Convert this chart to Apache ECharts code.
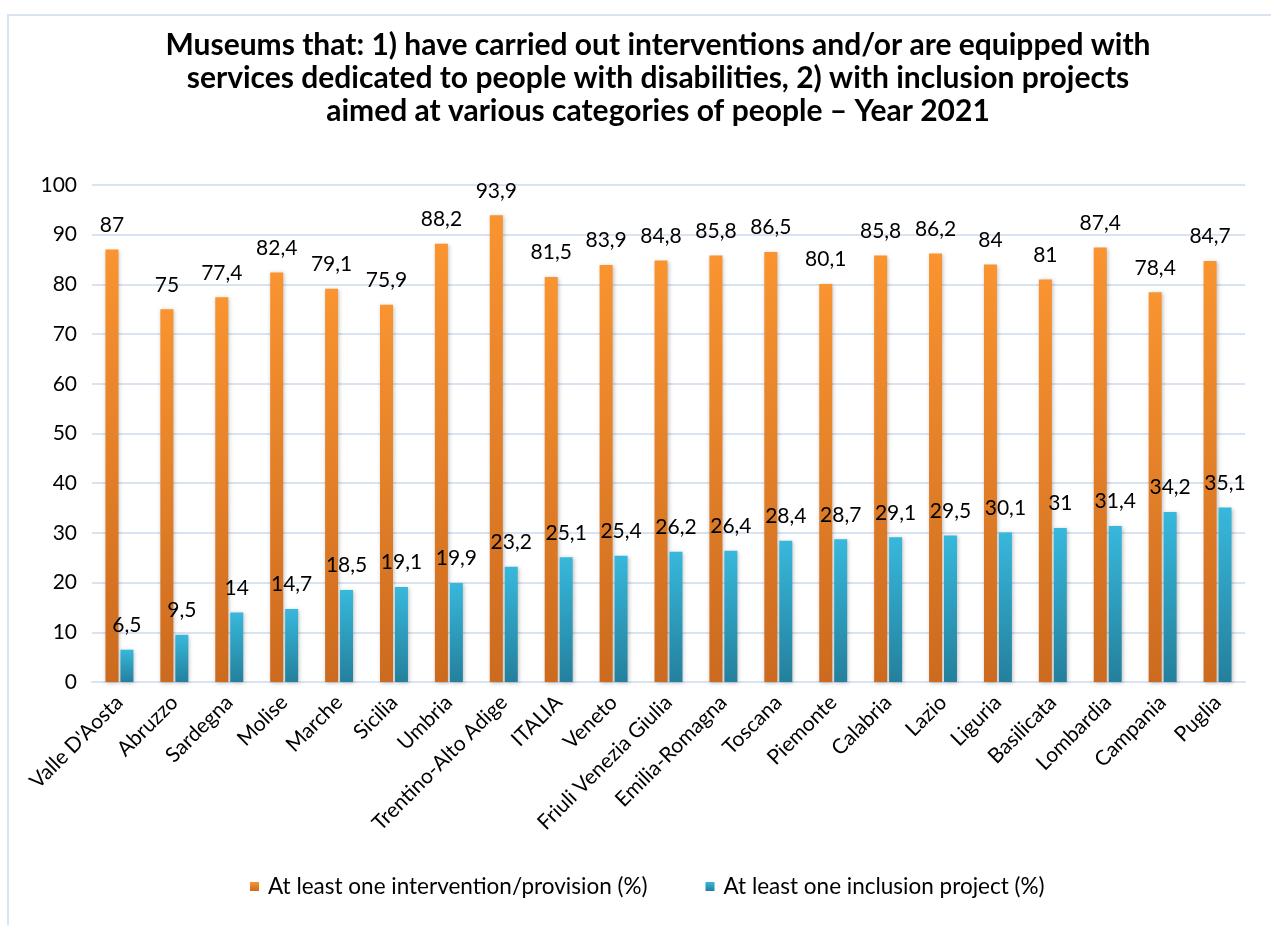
<!DOCTYPE html>
<html>
<head>
<meta charset="utf-8">
<script src="https://cdn.jsdelivr.net/npm/echarts@6/dist/echarts.min.js"></script>
<style>
  html, body { margin: 0; padding: 0; background: #fff; }
  #chart { width: 1271px; height: 925px; }
</style>
</head>
<body>
<div id="chart"></div>
<script>
// Regions (plus the national figure), ordered by share of museums with inclusion projects
const regions = [
  "Valle D'Aosta", "Abruzzo", "Sardegna", "Molise", "Marche", "Sicilia", "Umbria",
  "Trentino-Alto Adige", "ITALIA", "Veneto", "Friuli Venezia Giulia", "Emilia-Romagna",
  "Toscana", "Piemonte", "Calabria", "Lazio", "Liguria", "Basilicata", "Lombardia",
  "Campania", "Puglia"
];
const interventionPct = [
  87, 75, 77.4, 82.4, 79.1, 75.9, 88.2, 93.9, 81.5, 83.9, 84.8, 85.8,
  86.5, 80.1, 85.8, 86.2, 84, 81, 87.4, 78.4, 84.7
];
const inclusionPct = [
  6.5, 9.5, 14, 14.7, 18.5, 19.1, 19.9, 23.2, 25.1, 25.4, 26.2, 26.4,
  28.4, 28.7, 29.1, 29.5, 30.1, 31, 31.4, 34.2, 35.1
];
const seriesNames = [
  "At least one intervention/provision (%)",
  "At least one inclusion project (%)"
];
const yTicks = [0, 10, 20, 30, 40, 50, 60, 70, 80, 90, 100];

const FONT = 'Lato, "Open Sans", sans-serif';
const gridColor = '#D9E3F1';

function vGrad(top, bottom) {
  return new echarts.graphic.LinearGradient(0, 0, 0, 1, [
    { offset: 0, color: top },
    { offset: 1, color: bottom }
  ]);
}
const fmt = p => String(p.value).replace('.', ',');

const chart = echarts.init(document.getElementById('chart'), null, { renderer: 'canvas' });
chart.setOption({
  backgroundColor: '#fff',
  animation: false,
  textStyle: { fontFamily: FONT },
  graphic: [{
    type: 'rect',
    shape: { x: 8, y: 15, width: 1400, height: 1000 },
    style: { fill: 'none', stroke: gridColor, lineWidth: 2 },
    silent: true
  }],
  title: {
    text: 'Museums that: 1) have carried out interventions and/or are equipped with\nservices dedicated to people with disabilities, 2) with inclusion projects\naimed at various categories of people \u2013 Year 2021',
    left: 653,
    textAlign: 'center',
    top: 24,
    textStyle: {
      fontFamily: FONT,
      fontWeight: 'bold',
      fontSize: 30,
      lineHeight: 33,
      color: '#000'
    }
  },
  legend: {
    bottom: 22,
    left: 245,
    itemWidth: 9,
    itemHeight: 9,
    itemGap: 58,
    icon: 'rect',
    textStyle: { fontFamily: FONT, fontSize: 22.5, color: '#000', padding: [0, 0, 0, 4] },
    data: seriesNames
  },
  grid: { left: 92, right: 26, top: 185, bottom: 243, containLabel: false },
  xAxis: {
    type: 'category',
    data: regions,
    axisLine: { show: true, lineStyle: { color: gridColor, width: 2 } },
    axisTick: { show: false },
    axisLabel: {
      rotate: 45,
      interval: 0,
      margin: 17,
      fontFamily: FONT,
      fontSize: 21,
      color: '#000'
    }
  },
  yAxis: {
    type: 'value',
    min: yTicks[0],
    max: yTicks[yTicks.length - 1],
    interval: 10,
    axisLine: { show: false },
    axisTick: { show: false },
    splitLine: { lineStyle: { color: gridColor, width: 2 } },
    axisLabel: { margin: 15, fontFamily: FONT, fontSize: 21, color: '#000' }
  },
  series: [
    {
      name: seriesNames[0],
      type: 'bar',
      data: interventionPct,
      barWidth: 13,
      barGap: '15%',
      itemStyle: {
        color: vGrad('#F99430', '#CC6A1F'),
        shadowBlur: 4,
        shadowColor: 'rgba(0,0,0,0.25)',
        shadowOffsetX: 1,
        shadowOffsetY: 1
      },
      label: {
        show: true,
        position: 'top',
        distance: 14,
        formatter: fmt,
        fontFamily: FONT,
        fontSize: 21,
        color: '#000'
      }
    },
    {
      name: seriesNames[1],
      type: 'bar',
      data: inclusionPct,
      barWidth: 13,
      itemStyle: {
        color: vGrad('#37B8DC', '#24809C'),
        shadowBlur: 4,
        shadowColor: 'rgba(0,0,0,0.25)',
        shadowOffsetX: 1,
        shadowOffsetY: 1
      },
      label: {
        show: true,
        position: 'top',
        distance: 14,
        formatter: fmt,
        fontFamily: FONT,
        fontSize: 21,
        color: '#000'
      }
    }
  ]
});
</script>
</body>
</html>
